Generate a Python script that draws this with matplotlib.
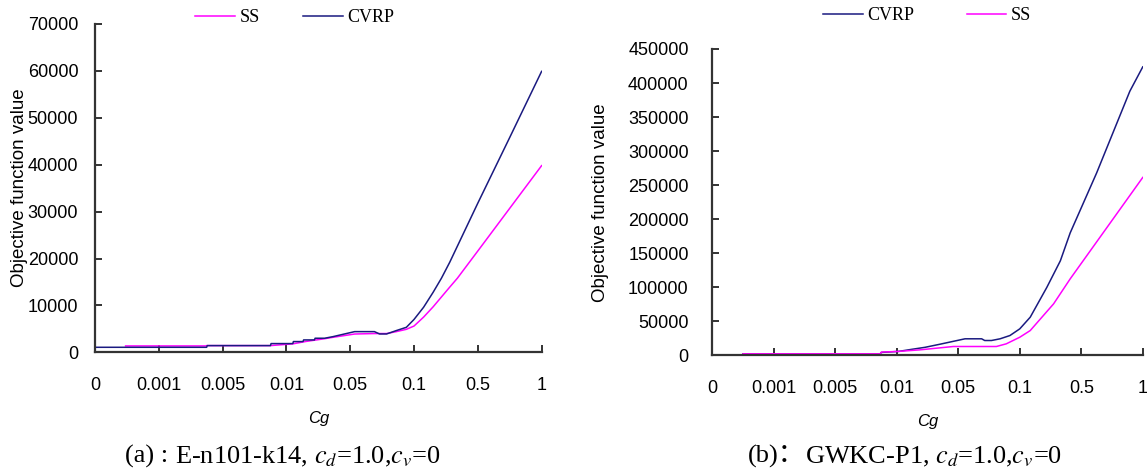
import matplotlib
matplotlib.use("Agg")
import matplotlib.pyplot as plt

plt.rcParams['mathtext.fontset'] = 'stix'

# ---------------- data ----------------
cg_labels = ['0', '0.001', '0.005', '0.01', '0.05', '0.1', '0.5', '1']

# (a) E-n101-k14 : positions along the Cg category axis and objective values
a_ss_pos = [0.48, 1.74, 1.75, 2.75, 3.1, 3.3, 3.6, 3.73, 4.07, 4.38, 4.57, 4.72, 4.88,
            5.0, 5.15, 5.3, 5.56, 5.68, 6.0, 6.5, 7.0]
a_ss_val = [1360, 1360, 1430, 1430, 1800, 2300, 2900, 3200, 3900, 4000, 4000, 4400, 4900,
            5600, 7500, 9700, 13900, 15800, 21600, 30700, 39800]

a_cvrp_pos = [0.0, 1.75, 1.76, 2.75, 2.76, 3.1, 3.11, 3.26, 3.27, 3.44, 3.45, 3.6, 3.73,
              4.07, 4.38, 4.46, 4.57, 4.72, 4.88, 5.0, 5.15, 5.3, 5.43, 5.56, 6.0, 6.5, 7.0]
a_cvrp_val = [1070, 1070, 1430, 1430, 1860, 1860, 2290, 2290, 2640, 2640, 3000, 3000, 3340,
              4410, 4410, 3910, 3910, 4620, 5330, 7000, 9600, 12800, 15800, 19200, 31800,
              45800, 59900]

# (b) GWKC-P1
b_cvrp_pos = [0.5, 2.73, 2.75, 3.03, 3.24, 3.46, 3.7, 4.11, 4.38, 4.43, 4.54, 4.68, 4.84,
              5.0, 5.17, 5.44, 5.66, 5.82, 6.25, 6.79, 7.0]
b_cvrp_val = [2500, 2500, 4500, 6000, 9000, 12000, 16500, 24500, 24500, 22000, 22000, 24500,
              29300, 39100, 56200, 100000, 139000, 180000, 268000, 388000, 423700]

b_ss_pos = [0.5, 2.73, 2.75, 3.03, 3.38, 3.92, 4.62, 4.78, 5.0, 5.17, 5.55, 5.82, 6.26, 7.0]
b_ss_val = [2500, 2500, 5000, 6000, 8300, 13200, 13200, 17100, 26800, 36600, 75800, 112500,
            168000, 261400]

a_yticks = list(range(0, 70001, 10000))
b_yticks = list(range(0, 450001, 50000))

PINK = '#FF00FF'
NAVY = '#1A1A80'
AXC = '#333333'
TICKFONT = ['Liberation Sans Narrow', 'Liberation Sans', 'DejaVu Sans']
LEGFONT = ['DejaVu Serif Condensed', 'Liberation Serif', 'DejaVu Serif']
W, H = 1147, 475

fig = plt.figure(figsize=(11.47, 4.75), dpi=100)
axa = fig.add_axes([0.0828, 0.2583, 0.3894, 0.6912])
axb = fig.add_axes([0.621, 0.2516, 0.3753, 0.6453])


def style(ax, yticks, ypad):
    for s in ['top', 'right']:
        ax.spines[s].set_visible(False)
    for s in ['left', 'bottom']:
        ax.spines[s].set_color(AXC)
        ax.spines[s].set_linewidth(1.6)
    ax.set_xlim(0, 7)
    ax.set_ylim(yticks[0], yticks[-1])
    ax.set_yticks(yticks)
    ax.set_yticklabels([str(v) for v in yticks])
    ax.set_xticks(range(len(cg_labels)))
    ax.set_xticklabels(cg_labels)
    ax.tick_params(axis='both', direction='in', length=5, width=1.4, color=AXC,
                   labelsize=13)
    ax.tick_params(axis='x', pad=18)
    ax.tick_params(axis='y', pad=ypad)
    for lab in ax.get_xticklabels() + ax.get_yticklabels():
        lab.set_family(TICKFONT)
    ax.set_xlabel('Cg', fontsize=12, style='italic', family=['Liberation Sans', 'DejaVu Sans'],
                  labelpad=12)
    ax.set_ylabel('Objective function value', fontsize=13.5,
                  family=['Liberation Sans', 'DejaVu Sans'])


def legend(handles, cx, cy, gap):
    fig.legend(handles=handles, loc='center', bbox_to_anchor=(cx / W, 1 - cy / H), ncol=2,
               frameon=False, handlelength=2.2, columnspacing=gap, handletextpad=0.25,
               prop={'family': LEGFONT, 'size': 13}, borderpad=0, borderaxespad=0)


# (a)
la_ss, = axa.plot(a_ss_pos, a_ss_val, color=PINK, lw=1.1, label='SS')
la_cv, = axa.plot(a_cvrp_pos, a_cvrp_val, color=NAVY, lw=1.1, label='CVRP')
style(axa, a_yticks, 12)
axa.yaxis.set_label_coords(-0.15, 0.5)
legend([la_ss, la_cv], 295, 18, 2.4)

# (b)
lb_cv, = axb.plot(b_cvrp_pos, b_cvrp_val, color=NAVY, lw=1.1, label='CVRP')
lb_ss, = axb.plot(b_ss_pos, b_ss_val, color=PINK, lw=1.1, label='SS')
style(axb, b_yticks, 17)
axb.yaxis.set_label_coords(-0.24, 0.5)
legend([lb_cv, lb_ss], 927, 16, 2.9)


# captions: plain prefix (may need CJK glyph) followed by a mathtext part
def caption(prefix, rest, cx, cy):
    renderer = fig.canvas.get_renderer()
    t1 = fig.text(0, 1 - cy / H, prefix, ha='left', va='baseline', fontsize=19,
                  family=['Liberation Serif', 'Noto Sans CJK SC', 'DejaVu Serif'])
    t2 = fig.text(0, 1 - cy / H, rest, ha='left', va='baseline', fontsize=19,
                  family=['Liberation Serif', 'DejaVu Serif'])
    w1 = t1.get_window_extent(renderer).width
    w2 = t2.get_window_extent(renderer).width
    x0 = cx - (w1 + w2) / 2
    t1.set_x(x0 / W)
    t2.set_x((x0 + w1) / W)


caption('(a) : ', r'E-n101-k14, $c_d$=1.0,$c_v$=0', 283, 463)
caption('(b)：', r'GWKC-P1, $c_d$=1.0,$c_v$=0', 905, 463)

fig.savefig('out.png', dpi=100)
